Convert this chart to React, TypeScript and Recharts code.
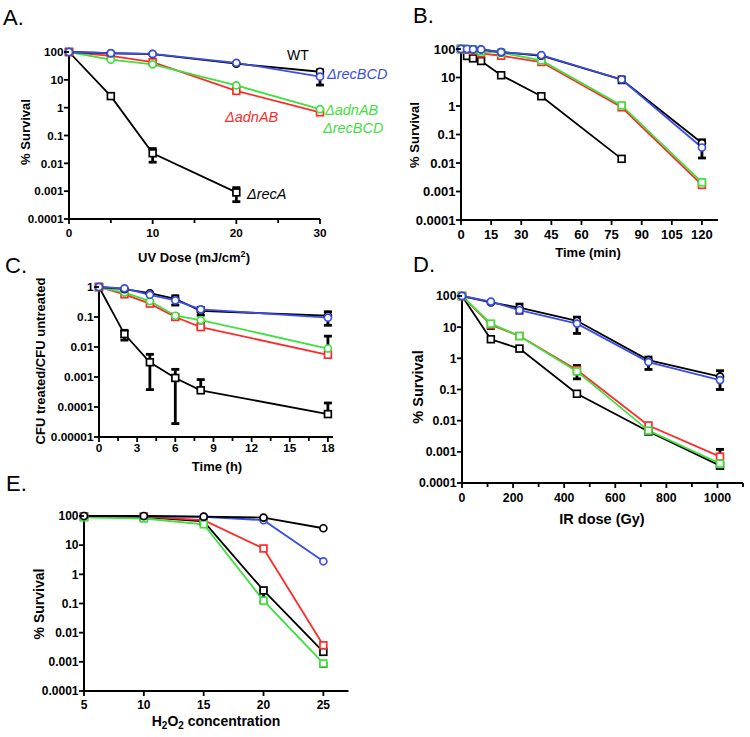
import React from 'react';
import { LineChart, Line, XAxis, YAxis, ErrorBar } from 'recharts';

const FONT = '"Liberation Sans", Arial, Helvetica, sans-serif';
const BLACK = '#000000';
const RED = '#ff2b2b';
const BLUE = '#3b4ee6';
const GREEN = '#3fe03f';

type Err = [number, number] | null;

// ---------- Panel A: UV dose ----------
const aDose = [0, 5, 10, 20, 30];
const aWT = [100, 90, 84, 38, 19.5];
const aRecBCD = [100, 91, 85, 41, 13];
const aAdnAB = [100, 72, 43, 4, 0.68];
const aAdnABRecBCD = [100, 53, 36, 6.3, 0.88];
const aRecA = [100, 2.6, 0.023, 0.0009, null];
const aWTErr: Err[] = [null, null, null, null, [17, 23]];
const aRecBCDErr: Err[] = [null, null, null, null, [6.5, 22]];
const aRecAErr: Err[] = [null, null, [0.011, 0.034], [0.00042, 0.00134], null];

// ---------- Panel B: time (min) ----------
const bTime = [0, 3, 6, 10, 20, 40, 80, 120];
const bWT = [100, 100, 98, 96, 78, 58, 8.5, 0.05];
const bRecBCD = [100, 100, 98, 97, 78, 61, 8.5, 0.035];
const bAdnAB = [100, 95, 88, 70, 58, 35, 0.9, 0.0017];
const bAdnABRecBCD = [100, 100, 97, 82, 74, 40, 1.05, 0.0021];
const bRecA = [100, 57, 47, 38, 12, 2.2, 0.014, null];
const bWTErr: Err[] = [null, null, null, null, null, null, [6.5, 10.5], [0.015, 0.065]];

// ---------- Panel C: time (h) ----------
const cTime = [0, 2, 4, 6, 8, 18];
const cWT = [1, 0.85, 0.62, 0.4, 0.16, 0.11];
const cRecBCD = [1, 0.9, 0.55, 0.36, 0.18, 0.095];
const cAdnAB = [1, 0.57, 0.28, 0.1, 0.046, 0.0055];
const cAdnABRecBCD = [1, 0.65, 0.34, 0.11, 0.079, 0.0089];
const cRecA = [1, 0.027, 0.0031, 0.00093, 0.00036, 0.000058];
const cWTErr: Err[] = [null, null, null, [0.25, 0.51], [0.115, 0.21], [0.053, 0.15]];
const cAdnABErr: Err[] = [null, null, null, null, [0.042, 0.062], null];
const cAdnABRecBCDErr: Err[] = [null, null, null, null, null, [0.0089, 0.023]];
const cRecAErr: Err[] = [null, [0.017, 0.036], [0.00038, 0.0057], [0.000028, 0.0018], [0.00036, 0.00082], [0.000058, 0.000136]];

// ---------- Panel D: IR dose ----------
const dDose = [0, 113, 225, 450, 730, 1010];
const dWT = [100, 62, 42, 16, 0.88, 0.26];
const dRecBCD = [100, 66, 35, 13, 0.76, 0.2];
const dAdnAB = [100, 12, 5.2, 0.42, 0.007, 0.0007];
const dAdnABRecBCD = [100, 13, 5.2, 0.38, 0.0048, 0.00042];
const dRecA = [100, 4.1, 2.05, 0.073, 0.0045, 0.00036];
const dWTErr: Err[] = [null, null, [28, 55], [6.3, 21], [0.44, 1.1], [0.1, 0.4]];
const dAdnABErr: Err[] = [null, [9.1, 15], null, [0.22, 0.59], null, [0.00054, 0.0012]];

// ---------- Panel E: H2O2 ----------
const eConc = [5, 10, 15, 20, 25];
const eWT = [100, 100, 95, 88, 38];
const eRecBCD = [100, 98, 93, 72, 2.8];
const eAdnAB = [95, 95, 72, 7.7, 0.0037];
const eAdnABRecBCD = [90, 82, 52, 0.125, 0.00088];
const eRecA = [95, 92, 65, 0.28, 0.0022];
const eRecAErr: Err[] = [null, null, null, [0.11, 0.28], null];
const eAdnABRecBCDErr: Err[] = [null, null, null, null, [0.0007, 0.00088]];

const logTicks6 = [0.0001, 0.001, 0.01, 0.1, 1, 10, 100];
const logTicksC = [0.00001, 0.0001, 0.001, 0.01, 0.1, 1];

type Series = {
  key: string;
  values: (number | null)[];
  err?: Err[];
  color: string;
  shape: 'circle' | 'square';
};

function buildRows(xs: number[], series: Series[]) {
  return xs.map((x, i) => {
    const row: any = { x };
    series.forEach((s) => {
      const v = s.values[i];
      row[s.key] = v == null ? null : v;
      const e = s.err ? s.err[i] : null;
      if (e && v != null) row[s.key + 'Err'] = [Math.max(v - e[0], 0), Math.max(e[1] - v, 0)];
    });
    return row;
  });
}

const makeDot = (color: string, shape: 'circle' | 'square') => (p: any) => {
  const { cx, cy, index, value } = p;
  if (cx == null || cy == null || value == null || Number.isNaN(cy)) return <g key={`n${index}`} />;
  if (shape === 'square') {
    return (
      <rect key={`s${index}`} x={cx - 3.4} y={cy - 3.4} width={6.8} height={6.8} fill="#fff" stroke={color} strokeWidth={1.7} />
    );
  }
  return <circle key={`c${index}`} cx={cx} cy={cy} r={3.5} fill="#fff" stroke={color} strokeWidth={1.7} />;
};

const fmt = (v: number) => String(v);

type PanelProps = {
  left: number;
  top: number;
  right: number;
  bottom: number;
  xs: number[];
  xDomain: [number, number];
  xTicks: number[];
  xMajors: number[];
  yDomain: [number, number];
  yTicks: number[];
  fs: number;
  xLabelDy: number;
  series: Series[];
  rightMargin?: number;
};

function Panel(props: PanelProps) {
  const { left, top, right, bottom, xs, xDomain, xTicks, xMajors, yDomain, yTicks, fs, xLabelDy, series } = props;
  const rm = props.rightMargin ?? 8;
  const chartLeft = left - 60;
  const chartTop = top - 10;
  const width = right - chartLeft + rm;
  const height = bottom - chartTop + 30;
  const rows = buildRows(xs, series);

  const XTick = (p: any) => {
    const { x, y, payload } = p;
    const major = xMajors.includes(payload.value);
    return (
      <g>
        <line x1={x} x2={x} y1={y} y2={y + (major ? 5 : 4)} stroke="#000" strokeWidth={1.8} />
        {major && (
          <text x={x} y={y + xLabelDy} textAnchor="middle" fontFamily={FONT} fontWeight="bold" fontSize={fs} fill="#000">
            {fmt(payload.value)}
          </text>
        )}
      </g>
    );
  };
  const YTick = (p: any) => {
    const { x, y, payload } = p;
    return (
      <g>
        <line x1={x - 5} x2={x} y1={y} y2={y} stroke="#000" strokeWidth={1.8} />
        <text x={x - 5.5} y={y + fs * 0.36} textAnchor="end" fontFamily={FONT} fontWeight="bold" fontSize={fs} fill="#000">
          {fmt(payload.value)}
        </text>
      </g>
    );
  };

  return (
    <div style={{ position: 'absolute', left: chartLeft, top: chartTop }}>
      <LineChart width={width} height={height} data={rows} margin={{ top: 10, right: rm, bottom: 0, left: 0 }}>
        <XAxis
          type="number"
          dataKey="x"
          domain={xDomain}
          ticks={xTicks}
          interval={0}
          height={30}
          tickSize={0}
          tickMargin={0}
          tickLine={false}
          tick={XTick}
          axisLine={{ stroke: '#000', strokeWidth: 2 }}
        />
        <YAxis
          type="number"
          scale="log"
          domain={yDomain}
          ticks={yTicks}
          interval={0}
          width={60}
          tickSize={0}
          tickMargin={0}
          tickLine={false}
          tick={YTick}
          axisLine={{ stroke: '#000', strokeWidth: 2 }}
        />
        {series.map((s) => (
          <Line
            key={s.key}
            dataKey={s.key}
            stroke={s.color}
            strokeWidth={1.8}
            dot={makeDot(s.color, s.shape)}
            activeDot={false}
            isAnimationActive={false}
            connectNulls
          >
            {s.err ? (
              <ErrorBar dataKey={s.key + 'Err'} width={4} strokeWidth={2.8} stroke="#000" direction="y" isAnimationActive={false} />
            ) : null}
          </Line>
        ))}
      </LineChart>
    </div>
  );
}

const seriesA: Series[] = [
  { key: 'recA', values: aRecA, err: aRecAErr, color: BLACK, shape: 'square' },
  { key: 'adnAB', values: aAdnAB, color: RED, shape: 'square' },
  { key: 'adnABrecBCD', values: aAdnABRecBCD, color: GREEN, shape: 'circle' },
  { key: 'WT', values: aWT, err: aWTErr, color: BLACK, shape: 'circle' },
  { key: 'recBCD', values: aRecBCD, err: aRecBCDErr, color: BLUE, shape: 'circle' },
];
const seriesB: Series[] = [
  { key: 'recA', values: bRecA, color: BLACK, shape: 'square' },
  { key: 'adnAB', values: bAdnAB, color: RED, shape: 'square' },
  { key: 'adnABrecBCD', values: bAdnABRecBCD, color: GREEN, shape: 'square' },
  { key: 'WT', values: bWT, err: bWTErr, color: BLACK, shape: 'circle' },
  { key: 'recBCD', values: bRecBCD, color: BLUE, shape: 'circle' },
];
const seriesC: Series[] = [
  { key: 'recA', values: cRecA, err: cRecAErr, color: BLACK, shape: 'square' },
  { key: 'adnAB', values: cAdnAB, err: cAdnABErr, color: RED, shape: 'square' },
  { key: 'adnABrecBCD', values: cAdnABRecBCD, err: cAdnABRecBCDErr, color: GREEN, shape: 'circle' },
  { key: 'WT', values: cWT, err: cWTErr, color: BLACK, shape: 'circle' },
  { key: 'recBCD', values: cRecBCD, color: BLUE, shape: 'circle' },
];
const seriesD: Series[] = [
  { key: 'recA', values: dRecA, color: BLACK, shape: 'square' },
  { key: 'adnAB', values: dAdnAB, err: dAdnABErr, color: RED, shape: 'square' },
  { key: 'adnABrecBCD', values: dAdnABRecBCD, color: GREEN, shape: 'square' },
  { key: 'WT', values: dWT, err: dWTErr, color: BLACK, shape: 'circle' },
  { key: 'recBCD', values: dRecBCD, color: BLUE, shape: 'circle' },
];
const seriesE: Series[] = [
  { key: 'recA', values: eRecA, err: eRecAErr, color: BLACK, shape: 'square' },
  { key: 'adnAB', values: eAdnAB, color: RED, shape: 'square' },
  { key: 'adnABrecBCD', values: eAdnABRecBCD, err: eAdnABRecBCDErr, color: GREEN, shape: 'square' },
  { key: 'recBCD', values: eRecBCD, color: BLUE, shape: 'circle' },
  { key: 'WT', values: eWT, color: BLACK, shape: 'circle' },
];

const T = (p: any) => <text fontFamily={FONT} fill="#000" {...p} />;

function Overlay() {
  const letter = { fontSize: 22 };
  const title = { fontSize: 13, fontWeight: 'bold' as const };
  const ann = { fontSize: 14.5, fontStyle: 'italic' as const };
  return (
    <svg width={750} height={737} style={{ position: 'absolute', left: 0, top: 0, pointerEvents: 'none' }}>
      <T x={3} y={25} {...letter}>A.</T>
      <T x={413} y={23} {...letter}>B.</T>
      <T x={5} y={273} {...letter}>C.</T>
      <T x={413} y={272} {...letter}>D.</T>
      <T x={6} y={491} {...letter}>E.</T>

      <T x={194} y={262} textAnchor="middle" {...title}>
        UV Dose (mJ/cm<tspan dy={-5} fontSize={9}>2</tspan><tspan dy={5}>)</tspan>
      </T>
      <T x={588} y={257} textAnchor="middle" {...title}>Time (min)</T>
      <T x={217} y={471} textAnchor="middle" {...title}>Time (h)</T>
      <T x={602} y={524} textAnchor="middle" {...title} fontSize={14.5}>IR dose (Gy)</T>
      <T x={216} y={726} textAnchor="middle" {...title} fontSize={14}>
        H<tspan dy={3} fontSize={10}>2</tspan><tspan dy={-3}>O</tspan><tspan dy={3} fontSize={10}>2</tspan><tspan dy={-3}> concentration</tspan>
      </T>

      <T x={25.5} y={132} transform="rotate(-90 25.5 132)" textAnchor="middle" dominantBaseline="central" {...title}>% Survival</T>
      <T x={414.5} y={135} transform="rotate(-90 414.5 135)" textAnchor="middle" dominantBaseline="central" {...title}>% Survival</T>
      <T x={40} y={361} transform="rotate(-90 40 361)" textAnchor="middle" dominantBaseline="central" {...title}>CFU treated/CFU untreated</T>
      <T x={418} y={387} transform="rotate(-90 418 387)" textAnchor="middle" dominantBaseline="central" {...title} fontSize={14.5}>% Survival</T>
      <T x={39} y={604} transform="rotate(-90 39 604)" textAnchor="middle" dominantBaseline="central" {...title} fontSize={14}>% Survival</T>

      <T x={287} y={60} fontSize={14}>WT</T>
      <T x={327} y={79} {...ann} fill={BLUE}>ΔrecBCD</T>
      <T x={225} y={122} {...ann} fill={RED}>ΔadnAB</T>
      <T x={325} y={115} {...ann} fill={GREEN}>ΔadnAB</T>
      <T x={323} y={133} {...ann} fill={GREEN}>ΔrecBCD</T>
      <T x={247} y={199} {...ann}>ΔrecA</T>
    </svg>
  );
}

export default function App() {
  return (
    <div style={{ position: 'absolute', left: 0, top: 0, width: 750, height: 737, overflow: 'hidden', background: '#fff' }}>
      <Panel left={69} top={52} right={320} bottom={219} xs={aDose} xDomain={[0, 30]} xTicks={[0, 5, 10, 15, 20, 25, 30]} xMajors={[0, 10, 20, 30]}
        yDomain={[0.0001, 100]} yTicks={logTicks6} fs={11.7} xLabelDy={17.7} series={seriesA} />
      <Panel left={461} top={49} right={718} bottom={220} xs={bTime} xDomain={[0, 128]} xTicks={[0, 15, 30, 45, 60, 75, 90, 105, 120]}
        xMajors={[0, 15, 30, 45, 60, 75, 90, 105, 120]} yDomain={[0.0001, 100]} yTicks={logTicks6} fs={13} xLabelDy={19.3} series={seriesB} />
      <Panel left={99} top={286.7} right={333} bottom={436.7} xs={cTime} xDomain={[0, 18.4]}
        xTicks={[0, 1.5, 3, 4.5, 6, 7.5, 9, 10.5, 12, 13.5, 15, 16.5, 18]} xMajors={[0, 3, 6, 9, 12, 15, 18]}
        yDomain={[0.00001, 1]} yTicks={logTicksC} fs={11.8} xLabelDy={15} series={seriesC} />
      <Panel left={462} top={296} right={743} bottom={483} xs={dDose} xDomain={[0, 1100]}
        xTicks={[0, 100, 200, 300, 400, 500, 600, 700, 800, 900, 1000, 1100]} xMajors={[0, 200, 400, 600, 800, 1000]}
        yDomain={[0.0001, 100]} yTicks={logTicks6} fs={12.3} xLabelDy={18.7} series={seriesD} rightMargin={4} />
      <Panel left={83.5} top={516} right={348} bottom={691} xs={eConc} xDomain={[5, 27.1]} xTicks={[5, 10, 15, 20, 25]}
        xMajors={[5, 10, 15, 20, 25]} yDomain={[0.0001, 100]} yTicks={logTicks6} fs={12} xLabelDy={18.3} series={seriesE} />
      <Overlay />
    </div>
  );
}
